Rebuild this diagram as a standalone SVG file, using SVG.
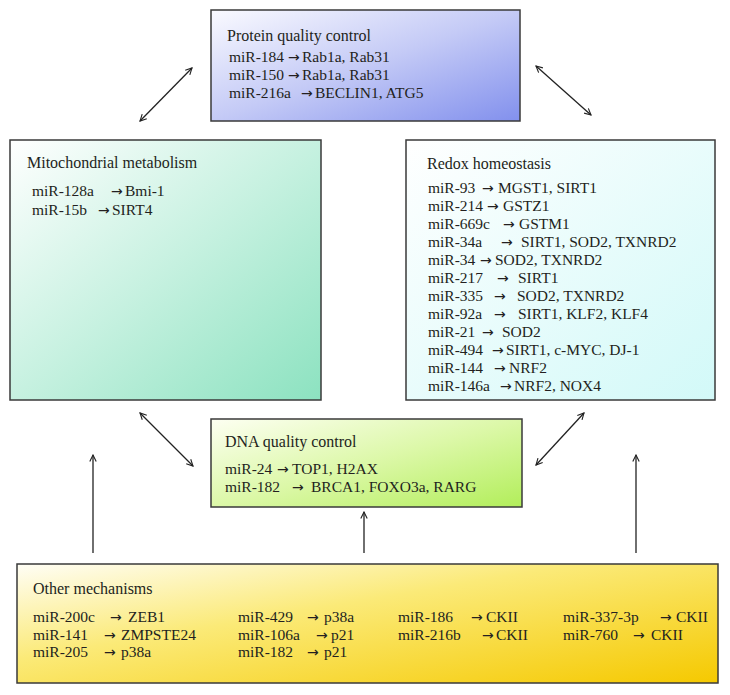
<svg xmlns="http://www.w3.org/2000/svg" width="730" height="695" viewBox="0 0 730 695">
<defs>
<linearGradient id="gP" x1="0" y1="0" x2="1" y2="1"><stop offset="0" stop-color="#fafaff"/><stop offset="0.5" stop-color="#c4caf6"/><stop offset="1" stop-color="#8290ed"/></linearGradient>
<linearGradient id="gM" x1="0" y1="0" x2="1" y2="1"><stop offset="0" stop-color="#ffffff"/><stop offset="0.5" stop-color="#c6f1e0"/><stop offset="1" stop-color="#8ce2c0"/></linearGradient>
<linearGradient id="gR" x1="0" y1="0" x2="1" y2="1"><stop offset="0" stop-color="#ffffff"/><stop offset="1" stop-color="#d2f9f8"/></linearGradient>
<linearGradient id="gD" x1="0" y1="0" x2="1" y2="1"><stop offset="0" stop-color="#fdfff2"/><stop offset="0.5" stop-color="#dcf8a8"/><stop offset="1" stop-color="#b2ee5a"/></linearGradient>
<linearGradient id="gO" x1="0" y1="0" x2="1" y2="1"><stop offset="0" stop-color="#fffef6"/><stop offset="0.4" stop-color="#fbea78"/><stop offset="1" stop-color="#f5c900"/></linearGradient>
<marker id="ah" viewBox="0 0 10 10" refX="9" refY="5" markerWidth="8" markerHeight="8" markerUnits="userSpaceOnUse" orient="auto-start-reverse"><path d="M1,1 L9,5 L1,9" fill="none" stroke="#222" stroke-width="1.4"/></marker>
</defs>
<style>
.box{stroke:#3a3a3a;stroke-width:1.5}
text{font-family:"Liberation Serif","Times New Roman",serif;font-size:15.5px;fill:#231f20}
.h{font-size:16px}
.a{font-family:"DejaVu Sans",sans-serif;font-size:14px}
.c{fill:none;stroke:#222;stroke-width:1.3;marker-end:url(#ah)}
.d{marker-start:url(#ah)}
</style>
<rect width="730" height="695" fill="#ffffff"/>

<g id="connectors">
<line class="c d" x1="140" y1="121" x2="192" y2="68"/>
<line class="c d" x1="536" y1="66" x2="591" y2="115"/>
<line class="c d" x1="140" y1="413" x2="193" y2="466"/>
<line class="c d" x1="584" y1="413" x2="536" y2="465"/>
<line class="c" x1="93" y1="553" x2="93" y2="455"/>
<line class="c" x1="364" y1="553" x2="364" y2="512"/>
<line class="c" x1="636" y1="553" x2="636" y2="455"/>
</g>

<g id="protein">
<rect class="box" x="211" y="10" width="309" height="111" fill="url(#gP)"/>
<text class="h" x="227" y="41">Protein quality control</text>
<text y="62"><tspan x="229">miR-184</tspan><tspan class="a" x="288">→</tspan><tspan x="302">Rab1a, Rab31</tspan></text>
<text y="80"><tspan x="229">miR-150</tspan><tspan class="a" x="288">→</tspan><tspan x="302">Rab1a, Rab31</tspan></text>
<text y="98"><tspan x="229">miR-216a</tspan><tspan class="a" x="301">→</tspan><tspan x="315">BECLIN1, ATG5</tspan></text>
</g>

<g id="mito">
<rect class="box" x="10" y="140" width="311" height="260" fill="url(#gM)"/>
<text class="h" x="27" y="168">Mitochondrial metabolism</text>
<text y="196"><tspan x="32">miR-128a</tspan><tspan class="a" x="111">→</tspan><tspan x="125">Bmi-1</tspan></text>
<text y="215"><tspan x="32">miR-15b</tspan><tspan class="a" x="98">→</tspan><tspan x="112">SIRT4</tspan></text>
</g>

<g id="redox">
<rect class="box" x="406" y="140" width="309" height="260" fill="url(#gR)"/>
<text class="h" x="427" y="169">Redox homeostasis</text>
<text y="193"><tspan x="428">miR-93</tspan><tspan class="a" x="482">→</tspan><tspan x="498">MGST1, SIRT1</tspan></text>
<text y="211"><tspan x="428">miR-214</tspan><tspan class="a" x="487">→</tspan><tspan x="503">GSTZ1</tspan></text>
<text y="229"><tspan x="428">miR-669c</tspan><tspan class="a" x="503">→</tspan><tspan x="519">GSTM1</tspan></text>
<text y="247"><tspan x="428">miR-34a</tspan><tspan class="a" x="501">→</tspan><tspan x="521">SIRT1, SOD2, TXNRD2</tspan></text>
<text y="265"><tspan x="428">miR-34</tspan><tspan class="a" x="480">→</tspan><tspan x="495">SOD2, TXNRD2</tspan></text>
<text y="283"><tspan x="428">miR-217</tspan><tspan class="a" x="497">→</tspan><tspan x="518">SIRT1</tspan></text>
<text y="301"><tspan x="428">miR-335</tspan><tspan class="a" x="494">→</tspan><tspan x="517">SOD2, TXNRD2</tspan></text>
<text y="319"><tspan x="428">miR-92a</tspan><tspan class="a" x="494">→</tspan><tspan x="518">SIRT1, KLF2, KLF4</tspan></text>
<text y="337"><tspan x="428">miR-21</tspan><tspan class="a" x="482">→</tspan><tspan x="502">SOD2</tspan></text>
<text y="355"><tspan x="428">miR-494</tspan><tspan class="a" x="492">→</tspan><tspan x="506">SIRT1, c-MYC, DJ-1</tspan></text>
<text y="373"><tspan x="428">miR-144</tspan><tspan class="a" x="494">→</tspan><tspan x="509">NRF2</tspan></text>
<text y="391"><tspan x="428">miR-146a</tspan><tspan class="a" x="500">→</tspan><tspan x="514">NRF2, NOX4</tspan></text>
</g>

<g id="dna">
<rect class="box" x="211" y="419" width="311" height="88" fill="url(#gD)"/>
<text class="h" x="225" y="447">DNA quality control</text>
<text y="474"><tspan x="225">miR-24</tspan><tspan class="a" x="277">→</tspan><tspan x="292">TOP1, H2AX</tspan></text>
<text y="492"><tspan x="225">miR-182</tspan><tspan class="a" x="292">→</tspan><tspan x="311">BRCA1, FOXO3a, RARG</tspan></text>
</g>

<g id="other">
<rect class="box" x="17" y="564" width="701" height="119" fill="url(#gO)"/>
<text class="h" x="33" y="594">Other mechanisms</text>
<text y="622"><tspan x="33">miR-200c</tspan><tspan class="a" x="110">→</tspan><tspan x="128">ZEB1</tspan></text>
<text y="640"><tspan x="33">miR-141</tspan><tspan class="a" x="104">→</tspan><tspan x="121">ZMPSTE24</tspan></text>
<text y="657"><tspan x="33">miR-205</tspan><tspan class="a" x="104">→</tspan><tspan x="121">p38a</tspan></text>
<text y="622"><tspan x="238">miR-429</tspan><tspan class="a" x="307">→</tspan><tspan x="324">p38a</tspan></text>
<text y="640"><tspan x="238">miR-106a</tspan><tspan class="a" x="316">→</tspan><tspan x="331">p21</tspan></text>
<text y="657"><tspan x="238">miR-182</tspan><tspan class="a" x="307">→</tspan><tspan x="324">p21</tspan></text>
<text y="622"><tspan x="398">miR-186</tspan><tspan class="a" x="471">→</tspan><tspan x="486">CKII</tspan></text>
<text y="640"><tspan x="398">miR-216b</tspan><tspan class="a" x="482">→</tspan><tspan x="496">CKII</tspan></text>
<text y="622"><tspan x="563">miR-337-3p</tspan><tspan class="a" x="660">→</tspan><tspan x="676">CKII</tspan></text>
<text y="640"><tspan x="563">miR-760</tspan><tspan class="a" x="633">→</tspan><tspan x="651">CKII</tspan></text>
</g>
</svg>
